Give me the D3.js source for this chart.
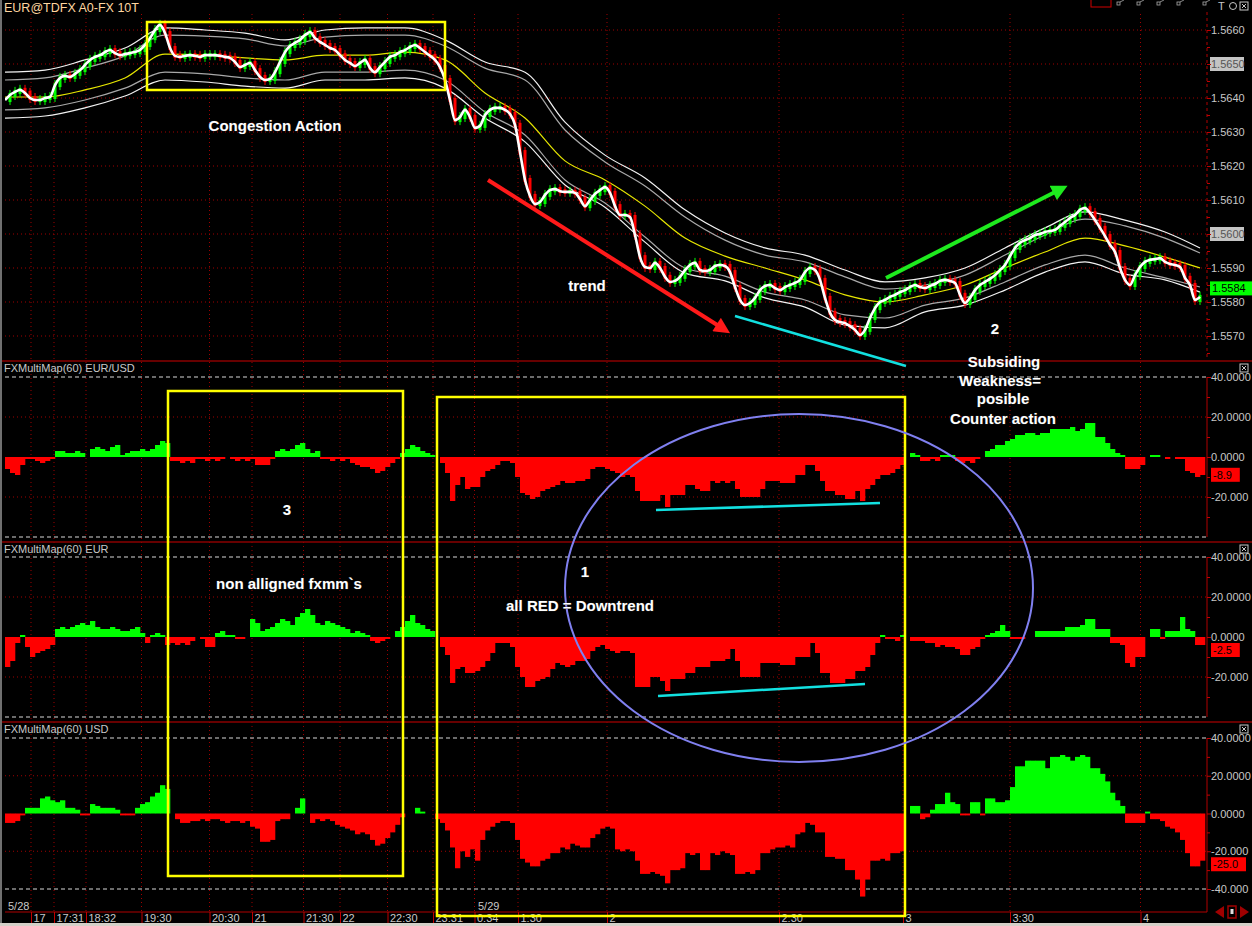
<!DOCTYPE html>
<html><head><meta charset="utf-8">
<script src="https://d3js.org/d3.v7.min.js"></script>
<style>body{margin:0;background:#000;overflow:hidden}svg{display:block}</style>
</head><body>
<svg id="c" width="1252" height="926"></svg>
<script>
// ---------------- DATA ----------------
const symbolTitle = "EUR@TDFX A0-FX 10T";
const closes = [
1.56394,1.56409,1.56418,1.56424,1.56415,1.56400,1.56394,1.56394,1.56400,1.56403,
1.56438,1.56459,1.56465,1.56462,1.56471,1.56482,1.56497,1.56512,1.56521,1.56526,
1.56535,1.56541,1.56532,1.56526,1.56529,1.56532,1.56535,1.56541,1.56556,1.56576,
1.56600,1.56615,1.56591,1.56547,1.56524,1.56521,1.56524,1.56526,1.56524,1.56521,
1.56526,1.56526,1.56526,1.56524,1.56521,1.56518,1.56506,1.56491,1.56497,1.56503,
1.56482,1.56462,1.56453,1.56456,1.56476,1.56506,1.56535,1.56553,1.56562,1.56571,
1.56585,1.56594,1.56576,1.56565,1.56556,1.56547,1.56541,1.56526,1.56512,1.56503,
1.56494,1.56503,1.56512,1.56488,1.56476,1.56491,1.56506,1.56521,1.56526,1.56535,
1.56541,1.56550,1.56556,1.56547,1.56535,1.56524,1.56512,1.56491,1.56453,1.56394,
1.56335,1.56344,1.56365,1.56344,1.56312,1.56318,1.56350,1.56365,1.56371,1.56371,
1.56365,1.56353,1.56321,1.56241,1.56159,1.56112,1.56088,1.56094,1.56115,1.56129,
1.56132,1.56126,1.56124,1.56124,1.56121,1.56103,1.56082,1.56100,1.56118,1.56129,
1.56138,1.56121,1.56082,1.56056,1.56056,1.56050,1.55997,1.55932,1.55903,1.55900,
1.55915,1.55900,1.55874,1.55859,1.55862,1.55874,1.55894,1.55909,1.55915,1.55894,
1.55891,1.55894,1.55906,1.55909,1.55906,1.55888,1.55844,1.55806,1.55791,1.55797,
1.55812,1.55835,1.55847,1.55850,1.55841,1.55835,1.55844,1.55850,1.55856,1.55865,
1.55888,1.55900,1.55894,1.55865,1.55812,1.55768,1.55747,1.55741,1.55738,1.55729,
1.55718,1.55703,1.55718,1.55753,1.55782,1.55800,1.55806,1.55815,1.55821,1.55829,
1.55835,1.55844,1.55850,1.55844,1.55841,1.55847,1.55853,1.55862,1.55865,1.55862,
1.55856,1.55821,1.55797,1.55812,1.55835,1.55850,1.55859,1.55868,1.55879,1.55894,
1.55909,1.55935,1.55959,1.55974,1.55982,1.55988,1.55997,1.56000,1.56006,1.56009,
1.56012,1.56024,1.56035,1.56047,1.56056,1.56071,1.56076,1.56062,1.56041,1.56018,
1.55994,1.55968,1.55947,1.55900,1.55865,1.55850,1.55879,1.55903,1.55918,1.55924,
1.55926,1.55929,1.55918,1.55912,1.55909,1.55903,1.55871,1.55850,1.55806,1.55815];

// envelope bands, sampled at bar positions bandIdx
const bandIdx = [0,8,16,24,32,40,48,56,64,72,80,88,96,104,112,120,128,136,144,152,160,168,176,184,192,200,208,216,224,232,239];
const bandMid = [1.56403,1.56403,1.56424,1.56459,1.56529,1.56526,1.56518,1.56512,1.56526,1.56526,1.56535,1.56512,1.56415,1.56341,1.56215,1.56159,1.56082,1.55988,1.55935,1.55900,1.55865,1.55821,1.55800,1.55821,1.55850,1.55900,1.55947,1.55988,1.55965,1.55932,1.55900];
const bandUpOuter = [1.56476,1.56482,1.56512,1.56547,1.56606,1.56600,1.56591,1.56571,1.56600,1.56606,1.56606,1.56571,1.56506,1.56476,1.56329,1.56232,1.56165,1.56071,1.56003,1.55959,1.55938,1.55894,1.55859,1.55871,1.55900,1.55959,1.56018,1.56065,1.56041,1.56006,1.55959];
const bandUpInner = [1.56453,1.56459,1.56488,1.56524,1.56585,1.56582,1.56574,1.56553,1.56579,1.56585,1.56585,1.56553,1.56488,1.56453,1.56306,1.56212,1.56141,1.56050,1.55982,1.55938,1.55918,1.55874,1.55838,1.55850,1.55879,1.55938,1.55997,1.56044,1.56024,1.55988,1.55944];
const bandLoInner = [1.56365,1.56371,1.56394,1.56429,1.56476,1.56471,1.56459,1.56453,1.56476,1.56476,1.56482,1.56453,1.56359,1.56291,1.56159,1.56091,1.55991,1.55900,1.55876,1.55829,1.55806,1.55762,1.55753,1.55791,1.55812,1.55859,1.55909,1.55938,1.55900,1.55871,1.55844];
const bandLoOuter = [1.56341,1.56347,1.56371,1.56406,1.56453,1.56447,1.56435,1.56429,1.56453,1.56453,1.56459,1.56429,1.56341,1.56271,1.56144,1.56079,1.55976,1.55885,1.55862,1.55812,1.55785,1.55732,1.55724,1.55771,1.55791,1.55835,1.55888,1.55918,1.55882,1.55865,1.55829];

const eurusd = [
-6,-8,-9,-4,-1,-1,-2,-3,-2,-1, 3,3,2,2,3,2,0,4,5,4, 3,5,6,1,2,3,3,4,3,4, 6,8,7,-2,-2,-3,-2,-3,-1,-1,
-2,-1,-2,-1,0,-1,-2,-1,-2,-1, -4,-4,-4,-1,3,4,3,4,6,7, 4,2,3,-1,-1,-2,-1,-2,-1,-3, -4,-5,-5,-6,-8,-7,-5,-3,-1,2,
4,6,5,3,2,1,0,-3,-8,-22, -14,-10,-16,-15,-15,-10,-7,-6,-4,-2, -2,-3,-10,-18,-19,-21,-20,-17,-16,-15, -14,-12,-13,-13,-12,-12,-11,-6,-5,-5,
-6,-7,-8,-10,-9,-10,-17,-22,-22,-22, -22,-19,-25,-19,-19,-19,-14,-14,-16,-17, -17,-12,-13,-12,-13,-12,-16,-20,-20,-20, -20,-16,-12,-12,-12,-13,-13,-13,-9,-9,
-4,-4,-7,-12,-17,-17,-19,-19,-21,-21, -17,-22,-16,-14,-11,-9,-9,-8,-6,-4, 0,2,1,-2,-2,-1,-2,1,1,1, -2,-3,-2,-3,-1,0,3,4,6,6,
8,9,11,11,12,12,11,12,12,14, 14,14,14,15,13,14,17,17,10,10, 7,4,2,1,-6,-6,-6,-4,0,1, 1,0,-1,0,-1,-1,-7,-8,-10,-9];
const eur = [
-15,-12,-3,1,-5,-10,-8,-7,-6,-4, 4,5,4,5,6,7,6,8,5,4, 4,5,4,3,3,4,5,2,-3,1, 2,1,-4,-3,-4,-3,-4,-2,0,-1,
-5,-5,2,3,1,1,-1,-1,0,9, 7,3,4,5,7,9,8,6,10,12, 14,11,7,6,8,7,6,5,4,2, 3,2,1,-2,-3,-2,-1,0,3,5,
8,11,7,6,4,3,0,-5,-9,-23, -16,-15,-18,-18,-17,-15,-12,-8,-3,-3, -3,-5,-15,-20,-25,-25,-22,-21,-20,-16, -13,-14,-15,-14,-12,-12,-11,-7,-5,-4,
-6,-7,-8,-7,-7,-8,-25,-25,-25,-20, -20,-22,-27,-21,-21,-21,-18,-18,-15,-15, -15,-12,-12,-12,-11,-6,-12,-20,-20,-20, -20,-13,-13,-13,-13,-14,-14,-14,-10,-10,
-10,-3,-8,-18,-18,-23,-23,-23,-21,-21, -17,-17,-15,-9,-3,1,-1,-1,-2,1, 0,-2,-2,-2,-3,-3,-5,-4,-5,-5, -6,-9,-9,-6,-5,-1,1,2,3,6,
3,-1,-1,-1,0,0,3,3,3,3, 3,3,5,5,5,6,9,9,4,4, 4,-3,-3,-4,-13,-15,-10,-10,0,4, 4,-1,3,3,3,10,4,3,-4,-4];
const usd = [
-5,-5,-4,-1,3,3,3,8,9,7, 6,7,3,3,2,-1,-1,5,4,3, 3,3,2,-1,-1,-1,3,5,6,9, 11,15,13,0,-3,-5,-5,-4,-4,-3,
-4,-3,-3,-4,-5,-4,-4,-5,-4,-7, -8,-15,-15,-14,-4,-3,-3,0,3,8, 0,-5,-3,-4,-3,-4,-6,-7,-8,-9, -11,-10,-11,-14,-17,-16,-13,-10,-6,-2,
0,0,3,1,0,0,-3,-5,-9,-18, -29,-20,-23,-19,-25,-14,-9,-7,-5,-4, -4,-5,-14,-24,-26,-28,-28,-25,-24,-21, -21,-18,-19,-16,-17,-18,-18,-13,-11,-8,
-7,-8,-19,-20,-19,-20,-25,-32,-32,-31, -32,-33,-37,-30,-30,-29,-21,-22,-21,-30, -30,-21,-22,-20,-21,-22,-32,-32,-31,-32, -30,-21,-21,-19,-18,-18,-17,-18,-11,-10,
-5,-6,-10,-10,-23,-23,-24,-24,-30,-30, -35,-44,-35,-25,-25,-24,-25,-21,-21,-20, 0,4,4,-3,-2,2,5,5,11,6, 5,-1,-1,6,6,-1,8,8,6,6,
7,14,25,25,28,28,28,28,24,30, 30,31,30,28,30,31,30,24,24,21, 17,11,7,4,-5,-5,-5,-5,1,-3, -3,-4,-7,-8,-10,-14,-21,-28,-28,-25];

const panelTitles = ["FXMultiMap(60) EUR/USD","FXMultiMap(60) EUR","FXMultiMap(60) USD"];
const lastValues = [-8.9, -2.5, -25.0];
const lastPrice = 1.5584;
const priceTicks = [1.5570,1.5580,1.5590,1.5600,1.5610,1.5620,1.5630,1.5640,1.5650,1.5660];
const priceMinorTicks = [1.5565,1.5575,1.5585,1.5595,1.5605,1.5615,1.5625,1.5635,1.5645,1.5655,1.5665];
const highlightedPrices = [1.5650,1.5600];
const oscMinorTicks = [30,10,-10,-30];
const timeTickIdx = [5.2,9.8,16.2,27.3,40.9,49.4,59.7,67,76.5,85.6,93.9,102.6,120.4,154.8,179.6,201,227.1];
const timeTickLabels = ["17","17:31","18:32","19:30","20:30","21","21:30","22","22:30","23:31","0:34","1:30","2","2:30","3","3:30","4"];
const dateLabels = [{idx:0.6,t:"5/28"},{idx:94.6,t:"5/29"}];

// ---------------- DRAWING ----------------
const W=1252,H=926,L=5,R=1207;
const FONT='"Liberation Sans", Arial, sans-serif';
const svg=d3.select('#c');
svg.append('rect').attr('width',W).attr('height',H).attr('fill','#000');
const defs=svg.append('defs');

const x=d3.scaleLinear().domain([0,closes.length]).range([L,L+closes.length*5]);
const yP=d3.scaleLinear().domain([1.5570,1.5660]).range([336,30]);
const panels=[{top:377,bot:537,sepTop:361,data:eurusd,labels:[40,20,0,-20]},
              {top:557,bot:717,sepTop:542,data:eur,labels:[40,20,0,-20]},
              {top:738,bot:889,sepTop:722,data:usd,labels:[40,20,0,-20,-40]}];
panels.forEach(p=>p.y=d3.scaleLinear().domain([-40,40]).range([p.bot,p.top]));

const gridC='#a00000';
svg.append('g').selectAll('line').data(timeTickIdx).join('line')
  .attr('x1',d=>x(d)).attr('x2',d=>x(d)).attr('y1',14).attr('y2',912)
  .attr('stroke',gridC).attr('stroke-dasharray','1,3');
svg.append('g').selectAll('line').data(priceTicks).join('line')
  .attr('x1',L).attr('x2',R).attr('y1',d=>yP(d)).attr('y2',d=>yP(d))
  .attr('stroke',gridC).attr('stroke-dasharray','1,3');
panels.forEach(p=>{
  const g=svg.append('g');
  g.selectAll('line.d').data([20,-20]).join('line').attr('class','d')
    .attr('x1',L).attr('x2',R).attr('y1',d=>p.y(d)).attr('y2',d=>p.y(d))
    .attr('stroke',gridC).attr('stroke-dasharray','1,3');
  g.selectAll('line.w').data([40,-40]).join('line').attr('class','w')
    .attr('x1',L).attr('x2',R).attr('y1',d=>p.y(d)).attr('y2',d=>p.y(d))
    .attr('stroke','#d8d8d8').attr('stroke-dasharray','4,3');
});

[361,542,722].forEach(y=>svg.append('line').attr('x1',0).attr('x2',W).attr('y1',y).attr('y2',y).attr('stroke','#8a0000').attr('stroke-width',1.5));
svg.append('line').attr('x1',R).attr('x2',R).attr('y1',12).attr('y2',358).attr('stroke','#b00000').attr('stroke-dasharray','3,3');
panels.forEach(p=>svg.append('line').attr('x1',R).attr('x2',R).attr('y1',p.top).attr('y2',p===panels[2]?912:p.bot).attr('stroke','#b00000'));
svg.append('line').attr('x1',L).attr('x2',R).attr('y1',912).attr('y2',912).attr('stroke','#b00000').attr('stroke-width',1.2);
svg.append('rect').attr('x',0).attr('y',0).attr('width',2).attr('height',H).attr('fill','#707070');

// ---- price panel ----
defs.append('clipPath').attr('id','cp').append('rect').attr('x',L).attr('y',12).attr('width',R-L).attr('height',347);
const gp=svg.append('g').attr('clip-path','url(#cp)');
const bandLine=d3.line().x((d,i)=>x(bandIdx[i])).y(d=>yP(d)).curve(d3.curveMonotoneX);
[[bandUpOuter,'#f2f2f2'],[bandLoOuter,'#f2f2f2'],[bandUpInner,'#a8a8a8'],[bandLoInner,'#a8a8a8'],[bandMid,'#e6e600']].forEach(([arr,c])=>{
  gp.append('path').attr('d',bandLine(arr)).attr('fill','none').attr('stroke',c).attr('stroke-width',1.2);
});
const cg=gp.append('g');
closes.forEach((c,i)=>{
  if(i===0) return;
  const o=closes[i-1], up=c>=o, col=up?'#00ff00':'#ff0000';
  const y1=yP(Math.max(o,c)), y2=yP(Math.min(o,c));
  cg.append('line').attr('x1',x(i)).attr('x2',x(i)).attr('y1',y1-5).attr('y2',y2+5).attr('stroke',col).attr('stroke-width',1);
  cg.append('rect').attr('x',x(i)-1.5).attr('y',y1-2).attr('width',3).attr('height',Math.max(3,y2-y1+4)).attr('fill',col);
});
gp.append('path').attr('d',d3.line().x((d,i)=>x(i)).y(d=>yP(d)).curve(d3.curveMonotoneX)(closes))
  .attr('fill','none').attr('stroke','#fff').attr('stroke-width',2.6);

function styleAxis(g){
  g.select('.domain').remove();
  g.selectAll('.tick line').attr('stroke','#c00000');
  g.selectAll('.tick text').attr('fill','#c8c8c8').style('font','11px '+FONT);
}
highlightedPrices.forEach(p=>svg.append('rect').attr('x',1210).attr('y',yP(p)-7).attr('width',34).attr('height',14).attr('fill','#c4c4c4'));
const ga=svg.append('g').attr('transform',`translate(${R},0)`)
  .call(d3.axisRight(yP).tickValues(priceTicks).tickFormat(d3.format('.4f')).tickSize(4).tickPadding(0));
styleAxis(ga);
ga.selectAll('.tick text').filter(d=>highlightedPrices.some(h=>Math.abs(h-d)<1e-7)).attr('fill','#555');
const gam=svg.append('g').attr('transform',`translate(${R},0)`)
  .call(d3.axisRight(yP).tickValues(priceMinorTicks.filter(v=>yP(v)>14&&yP(v)<356)).tickFormat('').tickSize(3));
styleAxis(gam);
svg.append('rect').attr('x',1210).attr('y',yP(lastPrice)-7).attr('width',42).attr('height',14).attr('fill','#00ff00');
svg.append('text').attr('x',1212).attr('y',yP(lastPrice)+4).text(d3.format('.4f')(lastPrice)).attr('fill','#000').style('font','11px '+FONT);

svg.append('text').attr('x',4).attr('y',12).text(symbolTitle).attr('fill','#ffd6a0').style('font','12.5px '+FONT);

// ---- oscillator panels ----
panels.forEach((p,k)=>{
  defs.append('clipPath').attr('id','co'+k).append('rect').attr('x',L).attr('y',p.sepTop+1).attr('width',R-L).attr('height',(k===2?911:p.bot+4)-p.sepTop);
  const g=svg.append('g').attr('clip-path',`url(#co${k})`);
  g.selectAll('rect').data(p.data).join('rect')
    .attr('x',(d,i)=>x(i)).attr('width',(d,i)=>x(i+1)-x(i)+0.3)
    .attr('y',d=>Math.min(p.y(d),p.y(0))).attr('height',d=>Math.abs(p.y(d)-p.y(0)))
    .attr('fill',d=>d>=0?'#00ff00':'#ff0000');
  svg.append('text').attr('x',4).attr('y',p.sepTop+11).text(panelTitles[k]).attr('fill','#c8c8c8').style('font','11px '+FONT);
  const ax=svg.append('g').attr('transform',`translate(${R},0)`)
    .call(d3.axisRight(p.y).tickValues(p.labels).tickFormat(d=>d<0?d.toFixed(3):d.toFixed(4)).tickSize(4).tickPadding(0));
  styleAxis(ax);
  const axm=svg.append('g').attr('transform',`translate(${R},0)`)
    .call(d3.axisRight(p.y).tickValues(oscMinorTicks).tickFormat('').tickSize(3));
  styleAxis(axm);
  // last value box, nudged just clear of any neighbouring tick label
  const v=lastValues[k], lbl=v.toFixed(1), w=lbl.length*6.2+4;
  let top=p.y(v)-7;
  p.labels.forEach(t=>{const ty=p.y(t); if(top<ty+6 && top+14>ty-6){ top = (p.y(v)>=ty)? ty+6 : ty-20; }});
  svg.append('rect').attr('x',1211).attr('y',top).attr('width',w).attr('height',14).attr('fill','#ff0000');
  svg.append('text').attr('x',1213).attr('y',top+11).text(lbl).attr('fill','#000').style('font','11px '+FONT);
  const cy=p.sepTop+3;
  svg.append('rect').attr('x',1240).attr('y',cy).attr('width',8).attr('height',8).attr('fill','none').attr('stroke','#c8c8c8');
  svg.append('path').attr('d',`M1242,${cy+2}L1246,${cy+6}M1246,${cy+2}L1242,${cy+6}`).attr('stroke','#c8c8c8');
});

// ---- time axis ----
const gt=svg.append('g').attr('transform','translate(0,912)')
  .call(d3.axisBottom(x).tickValues(timeTickIdx).tickFormat((d,i)=>timeTickLabels[i]).tickSize(11).tickSizeOuter(0));
gt.select('.domain').remove();
gt.selectAll('.tick line').attr('stroke','#c00000');
gt.selectAll('.tick text').attr('fill','#c8c8c8').style('font','11px '+FONT)
  .attr('text-anchor','start').attr('x',2).attr('y',10).attr('dy',0);
svg.selectAll('text.date').data(dateLabels).join('text').attr('class','date')
  .attr('x',d=>x(d.idx)).attr('y',910).text(d=>d.t).attr('fill','#c8c8c8').style('font','11px '+FONT);
svg.append('rect').attr('x',0).attr('y',923).attr('width',W).attr('height',3).attr('fill','#d4d0c8');

svg.append('path').attr('d','M1215,912L1224,906L1224,918Z').attr('fill','#a00000');
svg.append('rect').attr('x',1228).attr('y',906).attr('width',8).attr('height',12).attr('fill','none').attr('stroke','#a00000').attr('stroke-width',1.5);
svg.append('rect').attr('x',1230.5).attr('y',909).attr('width',3).attr('height',5).attr('fill','#ddd');
svg.append('path').attr('d','M1249,912L1240,906L1240,918Z').attr('fill','#a00000');

svg.append('rect').attr('x',1091).attr('y',-1).attr('width',20).attr('height',8).attr('fill','none').attr('stroke','#d00000');
[1117,1137,1157,1177,1203].forEach(xx=>{
  svg.append('rect').attr('x',xx).attr('y',2).attr('width',3).attr('height',3).attr('fill','none').attr('stroke','#aaa').attr('stroke-width',0.8);
  svg.append('line').attr('x1',xx+3).attr('x2',xx+7).attr('y1',2).attr('y2',0).attr('stroke','#aaa').attr('stroke-width',0.8);
});
svg.append('text').attr('x',1218).attr('y',10).text('T').attr('fill','#c8c8c8').style('font','11px '+FONT);
svg.append('circle').attr('cx',1233).attr('cy',6).attr('r',3.5).attr('fill','none').attr('stroke','#c8c8c8');
svg.append('rect').attr('x',1240).attr('y',2).attr('width',8).attr('height',8).attr('fill','none').attr('stroke','#c8c8c8');
svg.append('path').attr('d','M1242,4L1246,8M1246,4L1242,8').attr('stroke','#c8c8c8');

// ---------------- ANNOTATIONS ----------------
const ann=svg.append('g');
const yel='#ffff00';
[[147,22,445,90],[168,391,403,876],[437,397,905,916]].forEach(([x1,y1,x2,y2])=>
  ann.append('rect').attr('x',x1).attr('y',y1).attr('width',x2-x1).attr('height',y2-y1).attr('fill','none').attr('stroke',yel).attr('stroke-width',2.5));
function marker(id,col){
  defs.append('marker').attr('id',id).attr('viewBox','0 0 10 10').attr('refX',4).attr('refY',5)
    .attr('markerWidth',4.2).attr('markerHeight',4).attr('orient','auto')
    .append('path').attr('d','M0,0L10,5L0,10Z').attr('fill',col);
}
marker('mr','#ff1a1a'); marker('mg','#1eea1e');
ann.append('line').attr('x1',488).attr('y1',180).attr('x2',722).attr('y2',328).attr('stroke','#ff1a1a').attr('stroke-width',4).attr('marker-end','url(#mr)');
ann.append('line').attr('x1',886).attr('y1',278).attr('x2',1059).attr('y2',190).attr('stroke','#1eea1e').attr('stroke-width',4).attr('marker-end','url(#mg)');
ann.append('line').attr('x1',735).attr('y1',316).attr('x2',906).attr('y2',366).attr('stroke','#12e0e0').attr('stroke-width',2.5);
ann.append('line').attr('x1',656).attr('y1',510).attr('x2',880).attr('y2',503).attr('stroke','#12e0e0').attr('stroke-width',2.5);
ann.append('line').attr('x1',658).attr('y1',696).attr('x2',865).attr('y2',684).attr('stroke','#12e0e0').attr('stroke-width',2.5);
ann.append('ellipse').attr('cx',799).attr('cy',588).attr('rx',234).attr('ry',174).attr('fill','none').attr('stroke','#8080f0').attr('stroke-width',2);
const notes=[["Congestion Action",275,131],["trend",587,291],["2",995,334],["Subsiding",1004,367],["Weakness=",1000,386],["posible",1003,404],["Counter action",1003,424],["3",287,515],["non alligned fxmm`s",289,589],["1",585,577],["all RED = Downtrend",580,611]];
ann.selectAll('text').data(notes).join('text').attr('x',d=>d[1]).attr('y',d=>d[2]).attr('text-anchor','middle')
  .text(d=>d[0]).attr('fill','#fff').style('font','bold 15px '+FONT)
  .attr('stroke','#333').attr('stroke-width',0.6).attr('paint-order','stroke');
</script>
</body></html>
